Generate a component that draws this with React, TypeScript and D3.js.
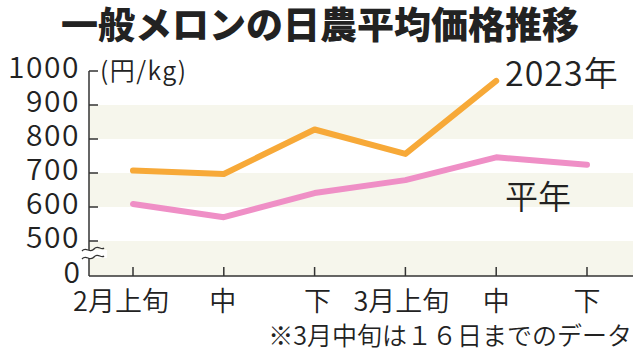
import React from "react";
import * as d3 from "d3";

const categories = ["2月上旬", "2月中", "2月下", "3月上旬", "3月中", "3月下"];
const tickLabels = ["2月上旬", "中", "下", "3月上旬", "中", "下"];
const series2023 = [707, 697, 828, 756, 971];
const seriesAvg = [609, 570, 641, 679, 746, 724];
const yTicks = [500, 600, 700, 800, 900, 1000];
const bands: [number, number][] = [[800, 900], [600, 700]];

const W = 640;
const H = 351;
const JP = "'Noto Sans CJK JP', 'Noto Sans', sans-serif";

export default function App() {
  const x = d3.scalePoint<string>().domain(categories).range([133, 587]);
  const y = d3.scaleLinear().domain([500, 1000]).range([241, 71]);
  const axisX = 89;
  const baseY = 276;
  const right = 633;

  const line = d3
    .line<number>()
    .x((_, i) => x(categories[i]) as number)
    .y((d) => y(d));

  const wave = (cy: number) =>
    `M${axisX - 7},${cy + 1} C${axisX - 3},${cy - 4} ${axisX + 1},${cy + 4} ${axisX + 5},${cy - 1} S${axisX + 12},${cy + 1} ${axisX + 15},${cy - 2}`;

  const labelShift = [-12, -1, 3, -4, 0, 0];

  return (
    <svg
      width={W}
      height={H}
      style={{ position: "absolute", left: 0, top: 0, background: "#fff" }}
    >
      <text
        x={320}
        y={39}
        textAnchor="middle"
        fontFamily={JP}
        fontWeight={900}
        fontSize={37}
        fill="#222"
      >
        一般メロンの日農平均価格推移
      </text>

      {bands.map(([a, b], i) => (
        <rect key={i} x={axisX} y={y(b)} width={right - axisX} height={y(a) - y(b)} fill="#f6f6ec" />
      ))}
      <rect x={axisX} y={y(500)} width={right - axisX} height={baseY - y(500)} fill="#f6f6ec" />

      {/* axes */}
      <line x1={axisX} y1={y(1000)} x2={axisX} y2={baseY} stroke="#333" strokeWidth={1.5} />
      <line x1={axisX} y1={baseY} x2={right} y2={baseY} stroke="#333" strokeWidth={1.5} />
      {yTicks.map((t) => (
        <line key={t} x1={axisX} y1={y(t)} x2={axisX + 9} y2={y(t)} stroke="#333" strokeWidth={1.5} />
      ))}
      {categories.map((c) => (
        <line key={c} x1={x(c)} y1={baseY} x2={x(c)} y2={baseY - 9} stroke="#333" strokeWidth={1.5} />
      ))}

      {/* break */}
      <rect x={axisX - 8} y={250} width={26} height={8} fill="#fff" />
      <path d={wave(250)} fill="none" stroke="#333" strokeWidth={1.3} />
      <path d={wave(258)} fill="none" stroke="#333" strokeWidth={1.3} />

      {/* y labels */}
      {yTicks.map((t) => (
        <text
          key={t}
          x={80}
          y={y(t) + 7}
          textAnchor="end"
          fontFamily={JP}
          fontWeight={350}
          fontSize={30}
          letterSpacing={1.5}
          fill="#222"
        >
          {t}
        </text>
      ))}
      <text x={80} y={baseY + 7} textAnchor="end" fontFamily={JP} fontWeight={350} fontSize={30} fill="#222">
        0
      </text>

      <text x={100} y={80} fontFamily={JP} fontWeight={350} fontSize={25} letterSpacing={1.5} fill="#222">
        (円/kg)
      </text>

      {/* lines */}
      <path d={line(seriesAvg) || ""} fill="none" stroke="#ef8fc6" strokeWidth={6} strokeLinecap="round" strokeLinejoin="round" />
      <path d={line(series2023) || ""} fill="none" stroke="#f7a938" strokeWidth={6} strokeLinecap="round" strokeLinejoin="round" />

      <text x={505} y={86} fontFamily={JP} fontWeight={350} fontSize={34} letterSpacing={1} fill="#222">
        2023年
      </text>
      <text x={505} y={209} fontFamily={JP} fontWeight={350} fontSize={33} fill="#222">
        平年
      </text>

      {/* x labels */}
      {categories.map((c, i) => (
        <text
          key={c}
          x={(x(c) as number) + labelShift[i]}
          y={311}
          textAnchor="middle"
          fontFamily={JP}
          fontWeight={350}
          fontSize={27}
          fill="#222"
        >
          {tickLabels[i]}
        </text>
      ))}

      <text x={632} y={345} textAnchor="end" fontFamily={JP} fontWeight={350} fontSize={25} fill="#222">
        ※3月中旬は１６日までのデータ
      </text>
    </svg>
  );
}
